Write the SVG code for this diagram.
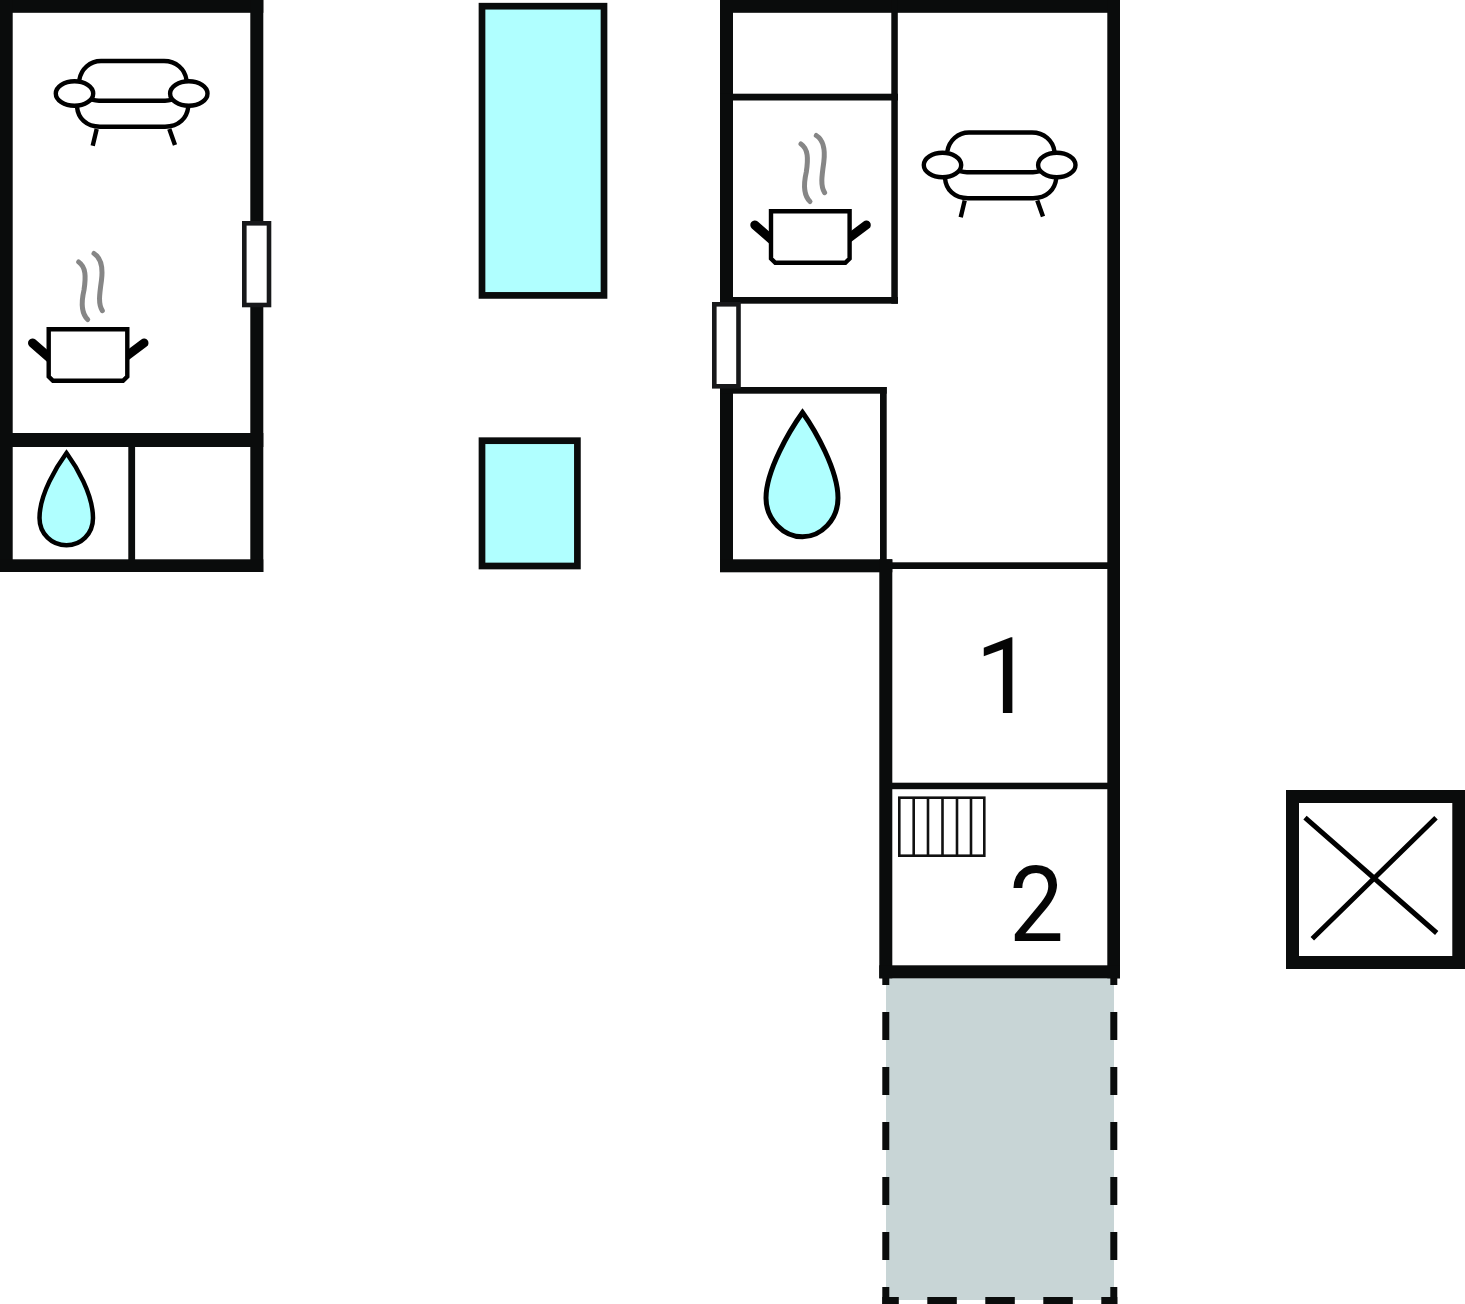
<svg xmlns="http://www.w3.org/2000/svg" width="1465" height="1304" viewBox="0 0 1465 1304">
<style>
.wall{fill:#0a0c0c}
.pool{fill:#b0ffff;stroke:#0a0c0c;stroke-width:6.7}
.win{fill:#fff;stroke:#17181a;stroke-width:4.6}
.ln{fill:none;stroke:#000;stroke-width:4.400}
.arm{fill:#fff;stroke:#000;stroke-width:4.400}
.body{fill:#fff;stroke:#000;stroke-width:4.400}
.drop{fill:#b0ffff;stroke:#000}
.steam{fill:none;stroke:#868686;stroke-width:5;stroke-linecap:round}
.handle{fill:none;stroke:#000;stroke-width:9;stroke-linecap:round}
.num{font-family:Roboto,"Liberation Sans",sans-serif;font-size:105px;fill:#050505}
.stair{fill:none;stroke:#111;stroke-width:2.600}
.vd{fill:none;stroke:#0a0c0c;stroke-width:7;stroke-dasharray:28 27}
.hd{fill:none;stroke:#0a0c0c;stroke-width:7;stroke-dasharray:29.5 28.5;stroke-dashoffset:13}
</style>
<defs>
<g id="sofa">
<path class="ln" d="M79.300,80C81,69 90,61 101,61H164C176,61 185,69 186.500,80"/>
<path class="ln" d="M86,96C91,100 95,100.700 99,100.700H165C169,100.700 173,100 178,96"/>
<path class="ln" d="M77,106.700C78,118 86,126.700 100,126.700H165C179,126.700 187,118 188.300,106.700"/>
<path class="ln" d="M96.700,129L92.700,145.700M169.300,129L175,145"/>
<ellipse class="arm" cx="74.500" cy="93.500" rx="18.700" ry="12.300"/>
<ellipse class="arm" cx="188.800" cy="93.500" rx="18.700" ry="12.300"/>
</g>
<g id="pot">
<path class="steam" d="M78.700,262C86,267 86,277 84,290C81,303 81,313 87.700,319.500"/>
<path class="steam" d="M94,253.500C101,258 103,268 101.500,280C99.500,294 98,304 102.300,310.700"/>
<path class="handle" d="M32.500,343L52,360"/>
<path class="handle" d="M144,343L124,358"/>
<path class="body" d="M48.700,329.300H127.300V376.500L123,380.700H53L48.700,376.500Z"/>
</g>
</defs>
<rect width="1465" height="1304" fill="#fff"/>

<g id="building-left">
<rect class="wall" x="0" y="0" width="263.300" height="12.800"/>
<rect class="wall" x="0" y="0" width="12.700" height="572"/>
<rect class="wall" x="250.300" y="0" width="13" height="572"/>
<rect class="wall" x="0" y="433" width="263.300" height="14"/>
<rect class="wall" x="0" y="559.300" width="263.300" height="12.700"/>
<rect class="wall" x="128.300" y="447" width="6.800" height="113"/>
<rect class="win" x="244.300" y="223.300" width="24.700" height="81.700"/>
<use href="#sofa"/>
<use href="#pot"/>
<path class="drop" stroke-width="4.500" d="M66.500,453C76,466 93,494 93,518C93,534 81,545.300 66.500,545.300C52,545.300 39.500,534 39.500,518C39.500,494 57,466 66.500,453Z"/>
</g>

<g id="pools">
<rect id="pool-large" class="pool" x="482" y="6.200" width="122" height="289.200"/>
<rect id="pool-small" class="pool" x="482" y="440.700" width="95.400" height="125.300"/>
</g>

<g id="terrace">
<rect x="886" y="978" width="228" height="322" fill="#c8d5d6"/>
<path class="vd" d="M885.800,957V1304"/>
<path class="vd" d="M1113.800,957V1304"/>
<path class="hd" d="M882.300,1300.600H1117.300"/>
</g>

<g id="building-right">
<rect class="wall" x="720" y="0" width="400" height="12.800"/>
<rect class="wall" x="720" y="0" width="13" height="302"/>
<rect class="wall" x="720" y="388" width="13" height="184"/>
<rect class="wall" x="1107.300" y="0" width="12.700" height="978.300"/>
<rect class="wall" x="891.300" y="0" width="6.500" height="303.700"/>
<rect class="wall" x="720" y="93.700" width="178" height="6.800"/>
<rect class="wall" x="720" y="297" width="178" height="6.700"/>
<rect class="wall" x="720" y="387" width="166.700" height="6.700"/>
<rect class="wall" x="880" y="387" width="6.700" height="175"/>
<rect class="wall" x="720" y="559.300" width="172.300" height="13"/>
<rect class="wall" x="892" y="562.300" width="216" height="6.700"/>
<rect class="wall" x="879.300" y="559.300" width="13" height="419"/>
<rect class="wall" x="892" y="782.700" width="216" height="6.500"/>
<rect class="wall" x="879.300" y="965.300" width="240.700" height="13"/>
<rect class="win" x="714.300" y="304.300" width="24.200" height="82"/>
<use href="#pot" transform="translate(722.300,-118)"/>
<use href="#sofa" transform="translate(868,71.500)"/>
<path class="drop" stroke-width="5" d="M802.500,412.500C815,430 838,470 838,498C838,520 821,536.800 802.500,536.800C784,536.800 766,520 766,498C766,470 790,430 802.500,412.500Z"/>
<g id="stairs">
<rect class="stair" x="899.300" y="797.700" width="85" height="58"/>
<path class="stair" d="M913.700,798V856M928,798V856M942.500,798V856M957,798V856M971,798V856"/>
</g>
<text class="num" x="975" y="713">1</text>
<text class="num" transform="translate(1009,941) scale(.93,1)">2</text>
</g>

<g id="shed">
<path class="wall" fill-rule="evenodd" d="M1286,790H1465V969H1286ZM1299,803V956H1452.300V803Z"/>
<path fill="none" stroke="#000" stroke-width="5" d="M1305,817.700L1436.700,933M1436,817.700L1312.300,938.700"/>
</g>
</svg>
